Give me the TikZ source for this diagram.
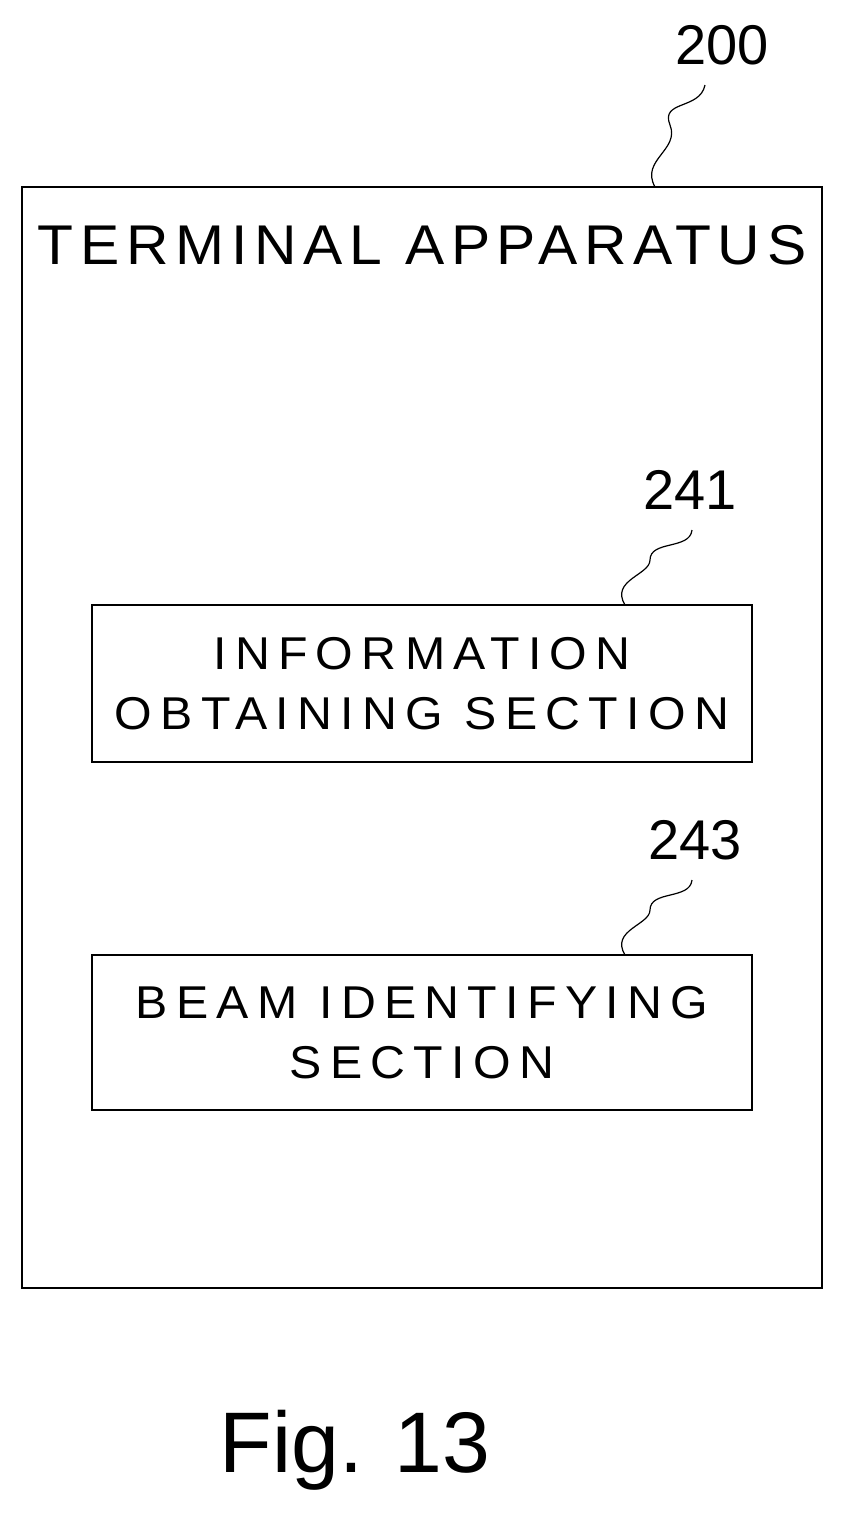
\documentclass[tikz,border=0pt]{standalone}
\usepackage{fontspec}
\setmainfont{Liberation Sans}
\newfontfamily\wide[LetterSpace=18,FakeStretch=1.05]{Liberation Sans}
\newfontfamily\wideT[LetterSpace=12,FakeStretch=1.05]{Liberation Sans}
\begin{document}
\begin{tikzpicture}[x=1pt,y=-1pt,line width=2.5pt,
  blk/.style={align=center,font=\wide\fontsize{46}{60}\selectfont,inner sep=0pt},
  lbl/.style={font=\fontsize{56}{60}\selectfont}]
\useasboundingbox (0,0) rectangle (844,1524);
\draw (22,187) rectangle (822,1288);
\node[font=\wideT\fontsize{56}{60}\selectfont] (t) at (422,245) {TERMINAL APPARATUS};
\node[draw,minimum width=660pt,minimum height=157pt] (a) at (422,683.5) {};
\node[blk] at (a) {INFORMATION\\OBTAINING SECTION};
\node[draw,minimum width=660pt,minimum height=155pt] (b) at (422,1032.5) {};
\node[blk] at (b) {BEAM IDENTIFYING\\SECTION};
\node[lbl] (n200) at (722,45) {200};
\node[lbl] (n241) at (690,490) {241};
\node[lbl] (n243) at (695,840) {243};
\coordinate (c200) at (655,187);
\coordinate (c241) at (625,605);
\coordinate (c243) at (625,955);
\draw[line width=1.2pt] (c200) .. controls (640,160) and (680,150) .. (670,125) .. controls (660,100) and (700,110) .. (705,85);
\draw[line width=1.2pt] (c241) .. controls (610,580) and (650,575) .. (650,560) .. controls (650,540) and (690,550) .. (692,530);
\draw[line width=1.2pt] (c243) .. controls (610,930) and (650,925) .. (650,910) .. controls (650,890) and (690,900) .. (692,880);
\node[font=\fontsize{86}{90}\selectfont] (fig) at (355,1450) {Fig. 13};
\end{tikzpicture}
\end{document}
